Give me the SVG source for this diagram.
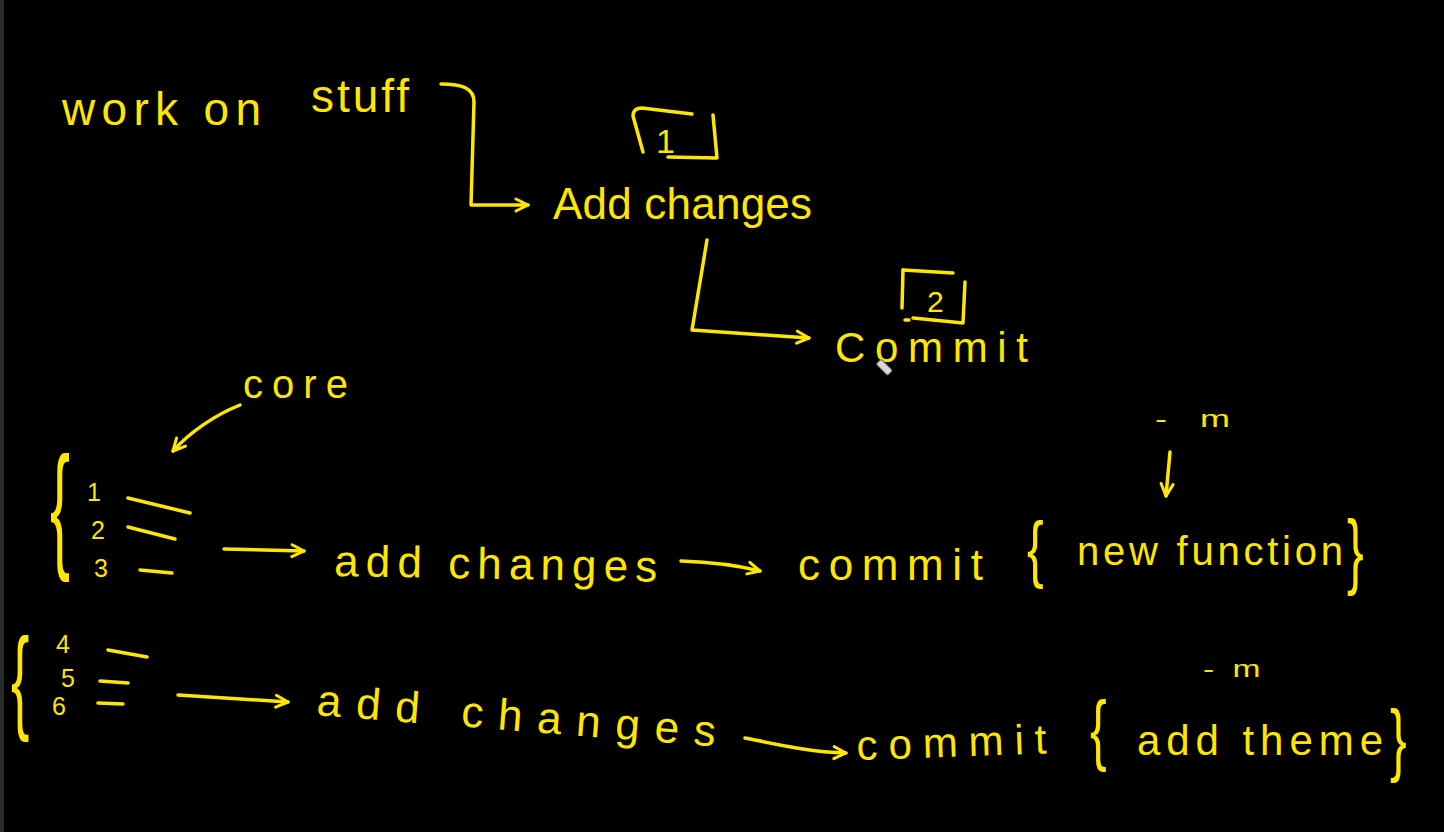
<svg xmlns="http://www.w3.org/2000/svg" width="1444" height="832" viewBox="0 0 1444 832">
<style>
.t{font-family:"Liberation Sans",Arial,sans-serif;fill:#FFE600;}
.s{fill:none;stroke:#FFE600;stroke-width:3.5;stroke-linecap:round;stroke-linejoin:round;}
</style>
<defs>
<marker id="ah" viewBox="0 0 16 16" refX="14" refY="8" markerWidth="16" markerHeight="16" markerUnits="userSpaceOnUse" orient="auto">
<path d="M2,2 L14,8 L2,14" fill="none" stroke="#FFE600" stroke-width="3" stroke-linecap="round" stroke-linejoin="round"/>
</marker>
</defs>
<rect x="0" y="0" width="1444" height="832" fill="#000"/>
<rect x="0" y="0" width="4" height="832" fill="#2a2a2a"/>

<g id="connectors">
<path class="s" d="M441,84 C462,84 474,88 474,102 L471,205 L528,205" marker-end="url(#ah)"/>
<path class="s" d="M707,240 L692,330 L809,338" marker-end="url(#ah)"/>
<path class="s" d="M240,405 C215,415 190,432 173,451" marker-end="url(#ah)"/>
<path class="s" d="M224,549 L304,551" marker-end="url(#ah)"/>
<path class="s" d="M681,561 C710,562 740,566 760,571" marker-end="url(#ah)"/>
<path class="s" d="M1170,452 L1166,496" marker-end="url(#ah)"/>
<path class="s" d="M178,695 L288,702" marker-end="url(#ah)"/>
<path class="s" d="M745,738 C780,745 810,752 846,753" marker-end="url(#ah)"/>
</g>

<g id="node-work">
<text class="t" font-size="46"><tspan x="62" y="125" textLength="199" lengthAdjust="spacing">work on</tspan><tspan x="311" y="112" textLength="98" lengthAdjust="spacing">stuff</tspan></text>
</g>

<g id="node-add-changes">
<text class="t" x="553" y="219" font-size="44" textLength="259" lengthAdjust="spacing">Add changes</text>
</g>

<g id="node-box1">
<path class="s" d="M643,152 L633,116 Q633,108 642,108 L692,114"/>
<path class="s" d="M713,115 L717,158 L668,157"/>
<text class="t" x="656" y="153" font-size="34">1</text>
</g>

<g id="node-commit">
<text class="t" x="835" y="362" font-size="42" textLength="193" lengthAdjust="spacing">Commit</text>
<g transform="translate(885,368) rotate(45)">
<rect x="-9" y="-3.5" width="16" height="7" rx="1.5" fill="#d8d8d8" stroke="#666" stroke-width="1"/>
</g>
</g>

<g id="node-box2">
<path class="s" d="M903,270 L953,273"/>
<path class="s" d="M903,270 L902,308"/>
<path class="s" d="M965,282 L963,323 L913,318"/>
<path class="s" d="M905,320 L909,320"/>
<text class="t" x="927" y="312" font-size="30">2</text>
</g>

<g id="node-core">
<text class="t" x="243" y="398" font-size="40" textLength="105" lengthAdjust="spacing">core</text>
</g>

<g id="node-list1">
<text class="t" transform="translate(50,553) scale(1,2.28)" font-size="60">{</text>
<text class="t" font-size="25"><tspan x="87" y="501">1</tspan><tspan x="91" y="539">2</tspan><tspan x="94" y="577">3</tspan></text>
<path class="s" d="M128,498 L190,513"/>
<path class="s" d="M128,527 L175,539"/>
<path class="s" d="M140,570 L172,573"/>
</g>

<g id="node-add1">
<text class="t" x="334" y="576" font-size="44" textLength="323" lengthAdjust="spacing" transform="rotate(1,334,576)">add changes</text>
</g>

<g id="node-commit1">
<text class="t" x="798" y="580" font-size="44" textLength="185" lengthAdjust="spacing">commit</text>
</g>

<g id="node-m1">
<text class="t" font-size="24" transform="translate(1155,427) scale(1.5,1)"><tspan x="0" y="0">-</tspan><tspan x="30" y="0">m</tspan></text>
</g>

<g id="node-msg1">
<text class="t" transform="translate(1027,574) scale(1,1.5)" font-size="50">{</text>
<text class="t" x="1077" y="565" font-size="40" textLength="266" lengthAdjust="spacing">new function</text>
<text class="t" transform="translate(1347,579) scale(1,1.68)" font-size="50">}</text>
</g>

<g id="node-list2">
<text class="t" transform="translate(11,718) scale(1,2.1)" font-size="55">{</text>
<text class="t" font-size="25"><tspan x="56" y="653">4</tspan><tspan x="61" y="687">5</tspan><tspan x="52" y="715">6</tspan></text>
<path class="s" d="M108,650 L147,657"/>
<path class="s" d="M100,681 L128,683"/>
<path class="s" d="M98,703 L123,704"/>
</g>

<g id="node-add2">
<text class="t" x="316" y="715" font-size="44" textLength="400" lengthAdjust="spacing" transform="rotate(4.5,316,715)">add changes</text>
</g>

<g id="node-commit2">
<text class="t" x="857" y="760" font-size="42" textLength="190" lengthAdjust="spacing" transform="rotate(-2,857,760)">commit</text>
</g>

<g id="node-m2">
<text class="t" font-size="24" transform="translate(1203,677) scale(1.4,1)"><tspan x="0" y="0">-</tspan><tspan x="21" y="0">m</tspan></text>
</g>

<g id="node-msg2">
<text class="t" transform="translate(1090,756) scale(1,1.56)" font-size="50">{</text>
<text class="t" x="1137" y="755" font-size="42" textLength="246" lengthAdjust="spacing">add theme</text>
<text class="t" transform="translate(1390,766) scale(1,1.6)" font-size="50">}</text>
</g>
</svg>
